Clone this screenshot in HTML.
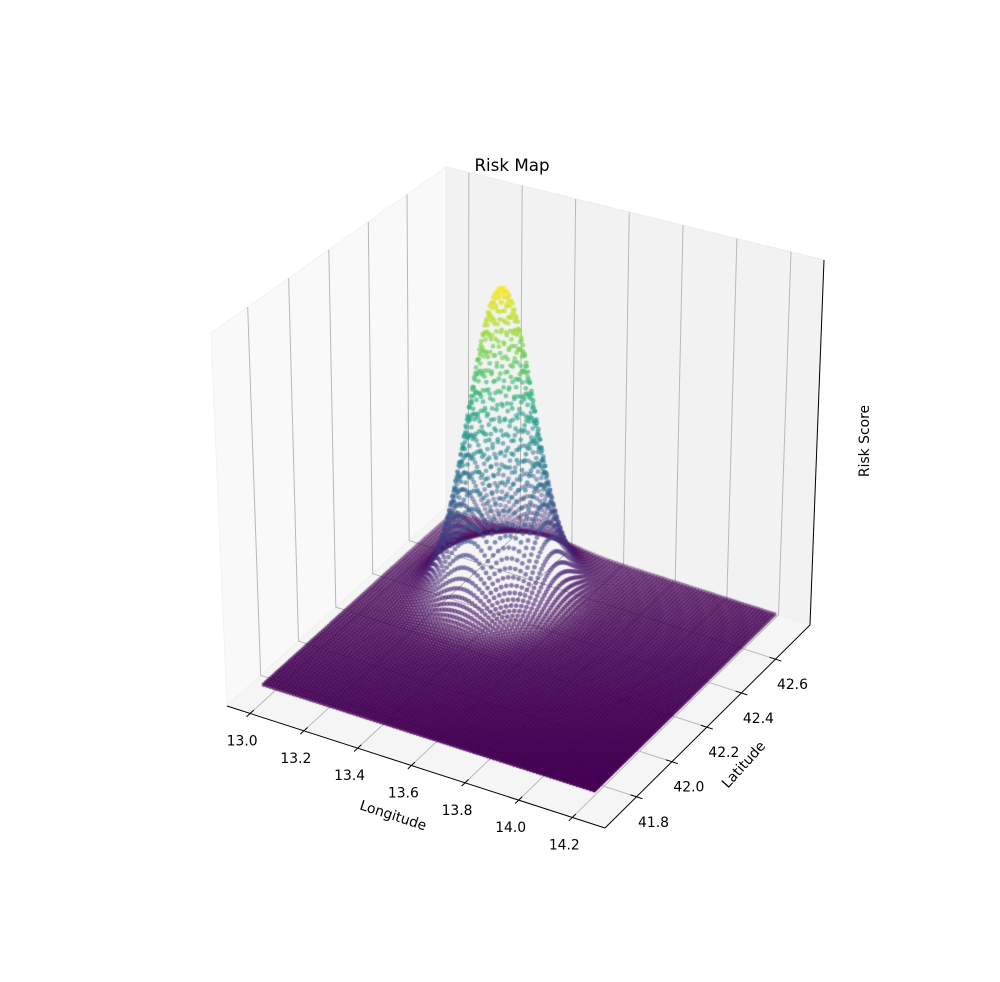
<!DOCTYPE html>
<html><head><meta charset="utf-8"><style>
html,body{margin:0;padding:0;background:#fff;}
#wrap{position:relative;width:1000px;height:982px;overflow:hidden;}
svg,canvas{position:absolute;left:0;top:0;}
text{font-family:"DejaVu Sans","Liberation Sans",sans-serif;fill:#000;}
</style></head><body>
<div id="wrap">
<svg id="bg" width="1000" height="982"></svg>
<canvas id="pts" width="1000" height="982"></canvas>
<svg id="fg" width="1000" height="982"></svg>
</div>
<script>
// ---- chart data ----
const lonTicks = [13.0, 13.2, 13.4, 13.6, 13.8, 14.0, 14.2];
const latTicks = [41.8, 42.0, 42.2, 42.4, 42.6];
const lonLimits = [12.914, 14.322];
const latLimits = [41.624, 42.805];
const zLimits = [-0.05, 1.14];
const lonDataRange = [13.0, 14.23];
const latDataRange = [41.70, 42.73];
const gridCount = [100, 100];
const peakCenter = [13.37, 42.45];
const peakSigma = [0.10, 0.10];
const peakHeight = [1.0];

// ---- projection (screen corners of the box) ----
const floorQuad = [[227,706],[605,828],[810,625],[446,507]]; // L,F,R,B
const topQuad = [[211,333],[608,433],[824,260],[446,167]];
function makeH(q){
  const [x0,y0]=q[0],[x1,y1]=q[1],[x2,y2]=q[2],[x3,y3]=q[3];
  const dx1=x1-x2,dx2=x3-x2,dx3=x0-x1+x2-x3,dy1=y1-y2,dy2=y3-y2,dy3=y0-y1+y2-y3;
  const den=dx1*dy2-dx2*dy1;
  const g=(dx3*dy2-dx2*dy3)/den,h=(dx1*dy3-dx3*dy1)/den;
  const a=x1-x0+g*x1,b=x3-x0+h*x3,c=x0,d=y1-y0+g*y1,e=y3-y0+h*y3,f=y0;
  return (u,v)=>{const w=g*u+h*v+1;return [(a*u+b*v+c)/w,(d*u+e*v+f)/w];};
}
const Hf=makeH(floorQuad),Ht=makeH(topQuad);
function nx(lon){return (lon-lonLimits[0])/(lonLimits[1]-lonLimits[0]);}
function ny(lat){return (lat-latLimits[0])/(latLimits[1]-latLimits[0]);}
function nz(z){return (z-zLimits[0])/(zLimits[1]-zLimits[0]);}
function proj(lon,lat,z){
  const u=nx(lon),v=ny(lat),w=nz(z);
  const p0=Hf(u,v),p1=Ht(u,v);
  return [p0[0]+w*(p1[0]-p0[0]),p0[1]+w*(p1[1]-p0[1])];
}
const NS='http://www.w3.org/2000/svg';
function el(parent,tag,attrs){const e=document.createElementNS(NS,tag);for(const k in attrs)e.setAttribute(k,attrs[k]);parent.appendChild(e);return e;}
function pts(arr){return arr.map(p=>p[0].toFixed(2)+','+p[1].toFixed(2)).join(' ');}

const bg=document.getElementById('bg'),fg=document.getElementById('fg');
const [L0,L1]=lonLimits,[A0,A1]=latLimits,[Z0,Z1]=zLimits;
// panes
let pane=el(bg,'polygon',{points:pts([proj(L0,A0,Z0),proj(L0,A1,Z0),proj(L0,A1,Z1),proj(L0,A0,Z1)]),fill:'#f9f9f9',stroke:'#f2f2f2'});


pane=el(bg,'polygon',{points:pts([proj(L0,A1,Z0),proj(L1,A1,Z0),proj(L1,A1,Z1),proj(L0,A1,Z1)]),fill:'#f2f2f2',stroke:'#ebebeb'});


pane=el(bg,'polygon',{points:pts([proj(L0,A0,Z0),proj(L1,A0,Z0),proj(L1,A1,Z0),proj(L0,A1,Z0)]),fill:'#f5f5f5',stroke:'#efefef'});


// gridlines
lonTicks.forEach(t=>{
  const g=el(bg,'polyline',{points:pts([proj(t,A0,Z0),proj(t,A1,Z0),proj(t,A1,Z1)]),fill:'none',stroke:'#b8b8b8','stroke-width':1});
  
  
});
latTicks.forEach(t=>{
  const g=el(bg,'polyline',{points:pts([proj(L1,t,Z0),proj(L0,t,Z0),proj(L0,t,Z1)]),fill:'none',stroke:'#b8b8b8','stroke-width':1});
  
  
});

// ---- scatter points ----
const viridis=['#440154','#482475','#414487','#355f8d','#2a788e','#21918c','#22a884','#44bf70','#7ad151','#bddf26','#fde725'];
function hex(c){return [parseInt(c.slice(1,3),16),parseInt(c.slice(3,5),16),parseInt(c.slice(5,7),16)];}
function cmap(t){t=Math.max(0,Math.min(1,t))*10;const i=Math.min(9,Math.floor(t)),f=t-i;const a=hex(viridis[i]),b=hex(viridis[i+1]);return a.map((v,k)=>Math.round(v+(b[k]-v)*f));}
const points=[];
for(let i=0;i<gridCount[0];i++){
  const lon=lonDataRange[0]+(lonDataRange[1]-lonDataRange[0])*i/(gridCount[0]-1);
  for(let j=0;j<gridCount[1];j++){
    const lat=latDataRange[0]+(latDataRange[1]-latDataRange[0])*j/(gridCount[1]-1);
    const dz=Math.pow((lon-peakCenter[0])/peakSigma[0],2)+Math.pow((lat-peakCenter[1])/peakSigma[1],2);
    const z=peakHeight[0]*Math.exp(-dz/2);
    points.push({lon,lat,z});
  }
}
const cam=[0.433,-0.75,0.5];
let zmin=Infinity,zmax=-Infinity;
points.forEach(p=>{
  p.s=proj(p.lon,p.lat,p.z);
  p.c=(nx(p.lon)-0.5)*4*cam[0]+(ny(p.lat)-0.5)*4*cam[1]+(nz(p.z)-0.5)*3*cam[2];
  zmin=Math.min(zmin,p.z);zmax=Math.max(zmax,p.z);
});
let cmin=Infinity,cmax=-Infinity;points.forEach(p=>{cmin=Math.min(cmin,p.c);cmax=Math.max(cmax,p.c);});
points.sort((a,b)=>a.c-b.c);
const ctx=document.getElementById('pts').getContext('2d');
points.forEach(p=>{
  const col=cmap((p.z-zmin)/(zmax-zmin));
  const alpha=1-0.7*(cmax-p.c)/(cmax-cmin);
  ctx.fillStyle='rgba('+col[0]+','+col[1]+','+col[2]+','+alpha.toFixed(3)+')';
  ctx.beginPath();ctx.arc(p.s[0],p.s[1],2.4,0,Math.PI*2);ctx.fill();
});

// ---- axes, ticks, labels ----
let ax=el(fg,'line',{x1:proj(L0,A0,Z0)[0],y1:proj(L0,A0,Z0)[1],x2:proj(L1,A0,Z0)[0],y2:proj(L1,A0,Z0)[1],stroke:'#000','stroke-width':1});


ax=el(fg,'line',{x1:proj(L1,A0,Z0)[0],y1:proj(L1,A0,Z0)[1],x2:proj(L1,A1,Z0)[0],y2:proj(L1,A1,Z0)[1],stroke:'#000','stroke-width':1});


ax=el(fg,'line',{x1:proj(L1,A1,Z0)[0],y1:proj(L1,A1,Z0)[1],x2:proj(L1,A1,Z1)[0],y2:proj(L1,A1,Z1)[1],stroke:'#000','stroke-width':1});


const dA=(A1-A0)*0.016,dL=(L1-L0)*0.016;
lonTicks.forEach(t=>{
  const a=proj(t,A0-dA,Z0),b=proj(t,A0+dA,Z0),c=proj(t,A0,Z0);
  const tk=el(fg,'line',{x1:a[0],y1:a[1],x2:b[0],y2:b[1],stroke:'#000','stroke-width':1});
  
  
  const tx=el(fg,'text',{x:c[0]-8,y:c[1]+28,'text-anchor':'middle','dominant-baseline':'central','font-size':'13.9px'});
  tx.textContent=t.toFixed(1);
  
  
});
latTicks.forEach(t=>{
  const a=proj(L1-dL,t,Z0),b=proj(L1+dL,t,Z0),c=proj(L1,t,Z0);
  const tk=el(fg,'line',{x1:a[0],y1:a[1],x2:b[0],y2:b[1],stroke:'#000','stroke-width':1});
  
  
  const tx=el(fg,'text',{x:c[0]+17,y:c[1]+26,'text-anchor':'middle','dominant-baseline':'central','font-size':'13.9px'});
  tx.textContent=t.toFixed(1);
  
  
});
</script>
<svg width="1000" height="982" style="position:absolute;left:0;top:0;pointer-events:none">
<text x="512" y="165" text-anchor="middle" dominant-baseline="central" font-size="16.7px">Risk Map</text>
<text x="393" y="816" text-anchor="middle" dominant-baseline="central" font-size="13.9px" transform="rotate(18 393 816)">Longitude</text>
<text x="744" y="765" text-anchor="middle" dominant-baseline="central" font-size="13.9px" transform="rotate(-48 744 765)">Latitude</text>
<text x="865" y="441" text-anchor="middle" dominant-baseline="central" font-size="13.9px" transform="rotate(-90 865 441)">Risk Score</text>
</svg>
</body></html>
